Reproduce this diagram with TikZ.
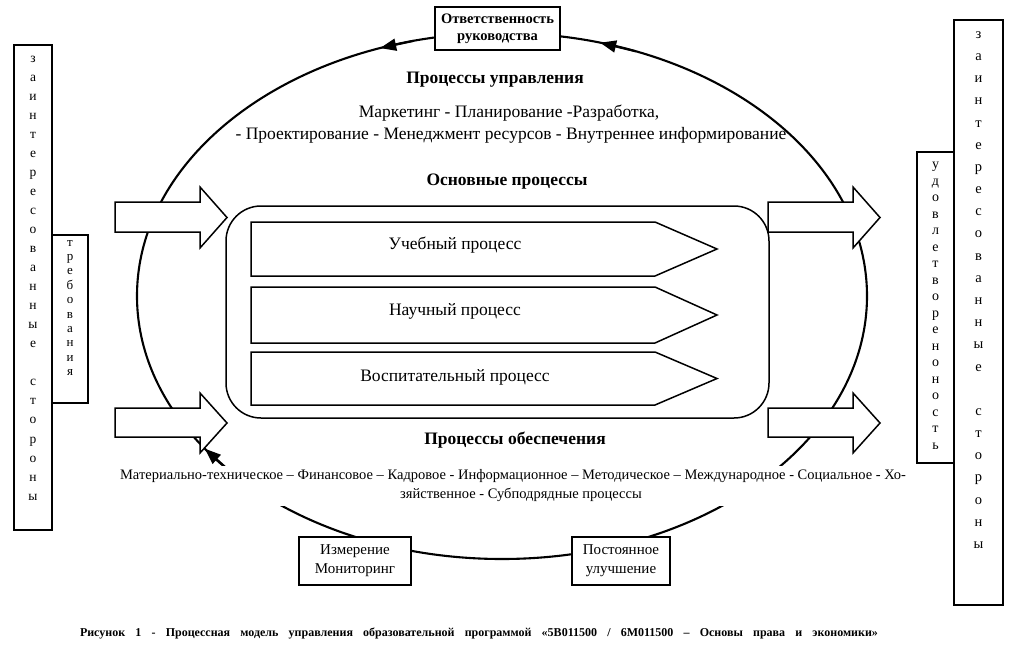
\documentclass[tikz,border=0pt]{standalone}
\usepackage{fontspec}
\setmainfont{Liberation Serif}
\usetikzlibrary{arrows.meta,calc}
\begin{document}
\begin{tikzpicture}[x=1pt,y=-1pt,
  box/.style={draw, line width=1.6pt, fill=white, inner sep=0pt, align=center},
  txt/.style={inner sep=0pt, align=center},
  blk/.style={draw, line width=1.5pt, fill=white, line join=miter},
  ring/.style={line width=2.1pt},
  tipa/.style={-{Triangle[length=16pt,width=12pt]}, line width=2.1pt},
  mainf/.style={font=\fontsize{17.5}{21}\selectfont},
  headf/.style={font=\bfseries\fontsize{17.5}{21}\selectfont}]
\useasboundingbox (0,0) rectangle (1015,651);
\fill[white] (0,0) rectangle (1015,651);

% cycle ellipse
\coordinate (c) at (502,296);
\draw[ring] (c) ellipse [x radius=365, y radius=263];

% top box
\node[box, minimum width=125pt, minimum height=43pt,
  font=\bfseries\fontsize{14.5}{17}\selectfont] (resp) at (497.5,28.5)
  {Ответственность\\руководства};

% arrowheads on the cycle
\coordinate (a1s) at ($(c)+(256:365 and 263)$);
\coordinate (a1e) at ($(c)+(250.5:365 and 263)$);
\coordinate (a2s) at ($(c)+(291.5:365 and 263)$);
\coordinate (a2e) at ($(c)+(285.6:365 and 263)$);
\coordinate (a3s) at ($(c)+(138:365 and 263)$);
\coordinate (a3e) at ($(c)+(144.5:365 and 263)$);
\draw[tipa] (a1s) -- (a1e);
\draw[tipa] (a2s) -- (a2e);
\draw[tipa] (a3s) -- (a3e);

% bottom boxes
\node[box, minimum width=112pt, minimum height=48pt,
  font=\fontsize{15}{19}\selectfont] (meas) at (355,561) {Измерение\\Мониторинг};
\node[box, minimum width=98pt, minimum height=48pt,
  font=\fontsize{15}{19}\selectfont] (impr) at (621,561) {Постоянное\\улучшение};

% block arrows
\draw[blk] (115,202) -- (200,202) -- (200,187) -- (227,217.5) -- (200,248) -- (200,232) -- (115,232) -- cycle;
\draw[blk] (115,408) -- (200,408) -- (200,393) -- (227,423) -- (200,453) -- (200,437) -- (115,437) -- cycle;
\draw[blk] (768,202) -- (853,202) -- (853,187) -- (880,217.5) -- (853,248) -- (853,232) -- (768,232) -- cycle;
\draw[blk] (768,408) -- (853,408) -- (853,393) -- (880,423) -- (853,453) -- (853,437) -- (768,437) -- cycle;

% core processes
\node[draw, line width=1.5pt, fill=white, rounded corners=35pt,
  minimum width=543pt, minimum height=212pt] (core) at (497.5,312) {};
\draw[blk] (251,222) -- (655,222) -- (717,249) -- (655,276) -- (251,276) -- cycle;
\draw[blk] (251,287) -- (655,287) -- (717,315) -- (655,343) -- (251,343) -- cycle;
\draw[blk] (251,352) -- (655,352) -- (717,378.5) -- (655,405) -- (251,405) -- cycle;
\node[txt, mainf] (p1) at (455,245) {Учебный процесс};
\node[txt, mainf] (p2) at (455,311) {Научный процесс};
\node[txt, mainf] (p3) at (455,377) {Воспитательный процесс};

% headings and texts
\node[txt, headf] (hm) at (495,80) {Процессы управления};
\node[txt, mainf] (m1) at (509,113) {Маркетинг - Планирование -Разработка,};
\node[txt, mainf] (m2) at (511,135) {- Проектирование - Менеджмент ресурсов - Внутреннее информирование};
\node[txt, headf] (hc) at (507,182) {Основные процессы};
\node[txt, headf] (hs) at (515,440) {Процессы обеспечения};
\node[fill=white, inner xsep=2pt, inner ysep=4pt, align=center,
  font=\fontsize{14.5}{19}\selectfont] (sup) at (513,486)
  {Материально-техническое – Финансовое – Кадровое - Информационное – Методическое – Международное - Социальное - Хо-\\
   \hspace*{16pt}зяйственное - Субподрядные процессы};

% left boxes
\node[draw, line width=1.6pt, fill=white, minimum width=38pt, minimum height=485pt] (lst) at (33,287.5) {};
\node[draw, line width=1.6pt, fill=white, minimum width=36pt, minimum height=168pt] (req) at (70,319) {};
\node[txt, font=\fontsize{13.5}{19.04}\selectfont] (lstt) at (33,278)
  {з\\а\\и\\н\\т\\е\\р\\е\\с\\о\\в\\а\\н\\н\\ы\\е\\[19.04pt]с\\т\\о\\р\\о\\н\\ы};
\node[txt, font=\fontsize{13}{14.4}\selectfont] (reqt) at (70,308)
  {т\\р\\е\\б\\о\\в\\а\\н\\и\\я};

% right boxes
\node[draw, line width=1.6pt, fill=white, minimum width=49pt, minimum height=585pt] (rst) at (978.5,312.5) {};
\node[draw, line width=1.6pt, fill=white, minimum width=37pt, minimum height=311pt] (sat) at (935.5,307.5) {};
\node[txt, font=\fontsize{14.5}{22.17}\selectfont] (rstt) at (978.5,290)
  {з\\а\\и\\н\\т\\е\\р\\е\\с\\о\\в\\а\\н\\н\\ы\\е\\[22.17pt]с\\т\\о\\р\\о\\н\\ы};
\node[txt, font=\fontsize{14}{16.5}\selectfont] (satt) at (935.5,306)
  {у\\д\\о\\в\\л\\е\\т\\в\\о\\р\\е\\н\\о\\н\\о\\с\\т\\ь};

% caption
\node[txt, font=\bfseries\fontsize{12}{14}\selectfont] (cap) at (479,633)
  {\makebox[798pt][s]{Рисунок 1 - Процессная  модель  управления  образовательной  программой  «5В011500 / 6М011500  – Основы права и экономики»}};
\end{tikzpicture}
\end{document}
